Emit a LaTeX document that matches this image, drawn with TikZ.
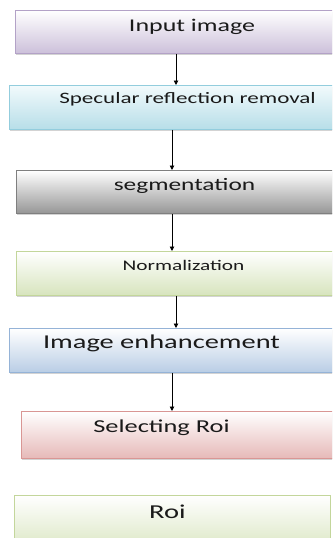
\documentclass[tikz,border=0pt]{standalone}
\usepackage{fontspec}
\setmainfont{Carlito}
\usetikzlibrary{arrows.meta,shadows}
\definecolor{pB}{HTML}{B3A2C7}\definecolor{pF}{HTML}{CCC0DA}
\definecolor{cB}{HTML}{93CDDD}\definecolor{cF}{HTML}{B7DEE8}\definecolor{cT}{HTML}{F2FAFC}
\definecolor{gB}{HTML}{7F7F7F}\definecolor{gF}{HTML}{969696}
\definecolor{lB}{HTML}{C3D69B}\definecolor{lF}{HTML}{D7E4BD}
\definecolor{bB}{HTML}{95B3D7}\definecolor{bF}{HTML}{B9CDE5}
\definecolor{rB}{HTML}{D99694}\definecolor{rF}{HTML}{E6B9B8}
\definecolor{txt}{HTML}{1A1A1A}
\newcommand{\wtxt}[2]{\scalebox{1.45}[1]{\fontsize{#1}{#1}\selectfont #2}}
\tikzset{
  box/.style={draw=#1, line width=0.8pt, inner sep=0pt, anchor=north west,
    drop shadow={shadow xshift=0.8pt, shadow yshift=-1.8pt, opacity=0.35}},
  lab/.style={anchor=base, inner sep=0pt, text=txt},
  arr/.style={-{Triangle[length=4.5pt,width=4.5pt]}, line width=0.9pt, black},
}
\begin{document}
\begin{tikzpicture}[x=1pt,y=1pt]
\useasboundingbox (0,0) rectangle (332,-538);
\clip (0,0) rectangle (332,-538);
% boxes
\node[box=pB, top color=white, bottom color=pF, minimum width=330pt, minimum height=43pt] (b1) at (15,-10) {};
\node[box=cB, top color=cT, bottom color=cF, minimum width=340pt, minimum height=44pt] (b2) at (9,-85) {};
\node[box=gB, top color=white, bottom color=gF, minimum width=330pt, minimum height=43pt] (b3) at (16,-170) {};
\node[box=lB, top color=white, bottom color=lF, minimum width=330pt, minimum height=44pt] (b4) at (16,-251) {};
\node[box=bB, top color=white, bottom color=bF, minimum width=340pt, minimum height=44pt] (b5) at (9,-328) {};
\node[box=rB, top color=white, bottom color=rF, minimum width=330pt, minimum height=47pt] (b6) at (21,-411) {};
\node[box=lB, top color=white, bottom color=lF, minimum width=316pt, minimum height=60pt] (b7) at (14,-495) {};
% labels
\node[lab] (t1) at (192,-31) {\wtxt{17.9}{Input image}};
\node[lab] (t2) at (187.5,-103) {\wtxt{15.9}{Specular reflection removal}};
\node[lab] (t3) at (184.5,-190) {\wtxt{17.5}{segmentation}};
\node[lab] (t4) at (183.5,-270) {\wtxt{14.7}{Normalization}};
\node[lab] (t5) at (161.5,-348) {\wtxt{19.6}{Image enhancement}};
\node[lab] (t6) at (161.5,-432) {\wtxt{18.2}{Selecting Roi}};
\node[lab] (t7) at (167.5,-518) {\wtxt{19.7}{Roi}};
% arrow columns
\coordinate (a1) at (176,0);
\coordinate (a2) at (172,0);
\coordinate (a3) at (172,0);
\coordinate (a4) at (176,0);
\coordinate (a5) at (172,0);
\draw[arr] (b1.south -| a1) -- (b2.north -| a1);
\draw[arr] (b2.south -| a2) -- (b3.north -| a2);
\draw[arr] (b3.south -| a3) -- (b4.north -| a3);
\draw[arr] (b4.south -| a4) -- (b5.north -| a4);
\draw[arr] (b5.south -| a5) -- (b6.north -| a5);
\end{tikzpicture}
\end{document}
